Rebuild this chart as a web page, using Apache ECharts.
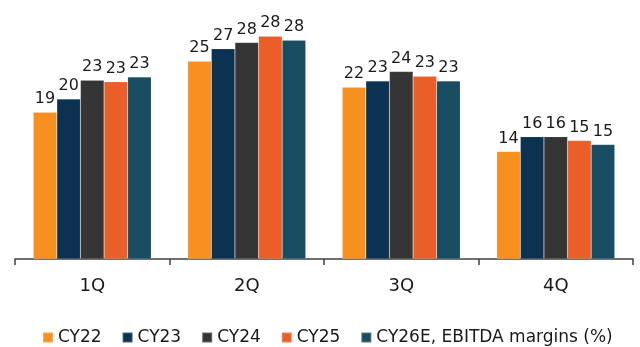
<!DOCTYPE html>
<html>
<head>
<meta charset="utf-8">
<script src="https://cdn.jsdelivr.net/npm/echarts@6/dist/echarts.min.js"></script>
<style>
  html, body { margin: 0; padding: 0; background: #fff; }
  #chart { width: 640px; height: 347px; }
</style>
</head>
<body>
<div id="chart"></div>
<script>
// quarters on the x axis
const quarters = ['1Q', '2Q', '3Q', '4Q'];
// EBITDA margins (%) per year
const cy22 = [18.7, 25.2, 21.9, 13.7];
const cy23 = [20.4, 26.8, 22.7, 15.6];
const cy24 = [22.8, 27.6, 23.9, 15.6];
const cy25 = [22.6, 28.4, 23.3, 15.1];
const cy26e = [23.2, 27.9, 22.7, 14.6];

const seriesNames = ['CY22', 'CY23', 'CY24', 'CY25', 'CY26E, EBITDA margins (%)'];
const seriesData = [cy22, cy23, cy24, cy25, cy26e];
const colors = ['#F7901E', '#0C3252', '#353535', '#EA5F28', '#194D61'];

const font = 'DejaVu Sans, Verdana, sans-serif';

const chart = echarts.init(document.getElementById('chart'));

const option = {
  animation: false,
  color: colors,
  grid: {
    left: 15,
    right: 7,
    top: 8,
    bottom: 88,
    containLabel: false
  },
  legend: {
    left: 37,
    top: 324,
    itemWidth: 10,
    itemHeight: 10,
    itemGap: 20,
    icon: 'rect',
    textStyle: { fontFamily: font, fontSize: 17, color: '#1a1a1a' },
    data: seriesNames
  },
  xAxis: {
    type: 'category',
    data: quarters,
    axisLine: { lineStyle: { color: '#404040', width: 1.5 } },
    axisTick: { show: true, length: 6, lineStyle: { color: '#404040', width: 1.5 } },
    axisLabel: { margin: 18, fontFamily: font, fontSize: 18, color: '#1a1a1a' }
  },
  yAxis: {
    type: 'value',
    min: 0,
    max: 32,
    show: false,
    splitLine: { show: false }
  },
  series: seriesNames.map((name, i) => ({
    name: name,
    type: 'bar',
    data: seriesData[i],
    barGap: '0%',
    barCategoryGap: '23.6%',
    itemStyle: { borderColor: 'rgba(255,255,255,0.25)', borderWidth: 0.5 },
    label: {
      show: true,
      position: 'top',
      distance: 5,
      fontFamily: font,
      fontSize: 16,
      color: '#1a1a1a',
      formatter: p => Math.round(p.value)
    }
  }))
};

chart.setOption(option);
</script>
</body>
</html>
